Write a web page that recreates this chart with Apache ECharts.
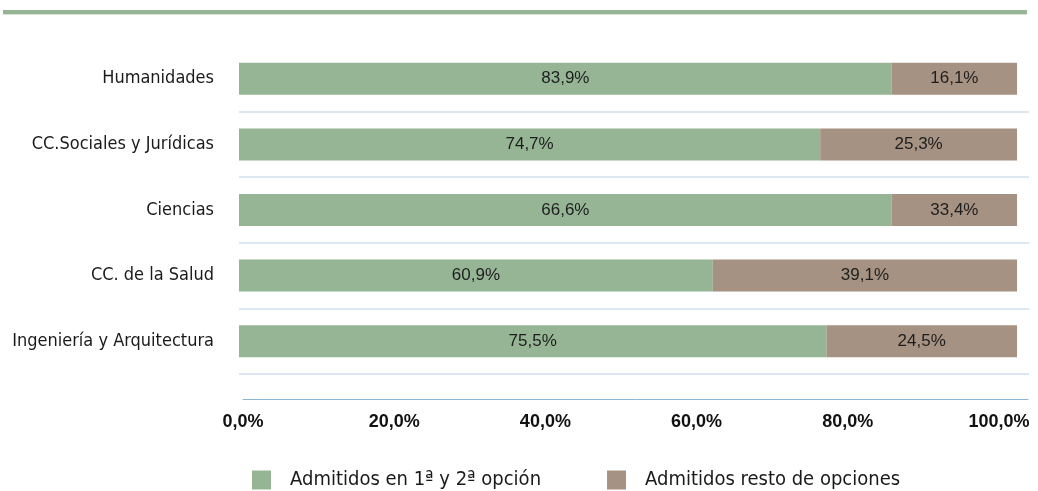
<!DOCTYPE html>
<html>
<head>
<meta charset="utf-8">
<script src="https://cdn.jsdelivr.net/npm/echarts@6/dist/echarts.min.js"></script>
<style>
  html, body { margin: 0; padding: 0; background: #fff; }
  #chart { width: 1038px; height: 491px; }
</style>
</head>
<body>
<div id="chart"></div>
<script>
// categories (top to bottom)
const categories = ['Humanidades', 'CC.Sociales y Jurídicas', 'Ciencias', 'CC. de la Salud', 'Ingeniería y Arquitectura'];
// bar lengths as drawn
const primeraSegunda = [83.9, 74.7, 83.9, 60.9, 75.5];
const restoOpciones = [16.1, 25.3, 16.1, 39.1, 24.5];
// printed labels
const labelsPrimera = ['83,9%', '74,7%', '66,6%', '60,9%', '75,5%'];
const labelsResto = ['16,1%', '25,3%', '33,4%', '39,1%', '24,5%'];
const tickLabels = ['0,0%', '20,0%', '40,0%', '60,0%', '80,0%', '100,0%'];
const seriesNames = ['Admitidos en 1ª y 2ª opción', 'Admitidos resto de opciones'];

const GREEN = '#96b595';
const BROWN = '#a59282';
const NARROW = "'Liberation Sans Narrow', 'DejaVu Sans Condensed', 'Liberation Sans', sans-serif";

const chart = echarts.init(document.getElementById('chart'));

const option = {
  backgroundColor: '#fff',
  animation: false,
  graphic: [
    { type: 'rect', left: 3, top: 10, shape: { width: 1024, height: 4 }, style: { fill: GREEN } },
    { type: 'rect', left: 3, top: 14, shape: { width: 1024, height: 1 }, style: { fill: '#d3e4d2' } }
  ],
  legend: {
    left: 247,
    top: 465,
    itemWidth: 19,
    itemHeight: 19,
    itemGap: 66,
    icon: 'rect',
    textStyle: { fontFamily: NARROW, fontSize: 20, color: '#1a1a1a', padding: [0, 0, 0, 14] },
    data: seriesNames
  },
  grid: [
    { left: 239, right: 9, top: 46, bottom: 117, outerBoundsMode: 'none' },
    { left: 243, right: 10, top: 46, bottom: 117, outerBoundsMode: 'none' }
  ],
  xAxis: [
    { gridIndex: 0, type: 'value', min: 0, max: 101.54, show: false },
    {
      gridIndex: 1, type: 'value', min: 0, max: 103.84, interval: 20, offset: 25,
      axisLine: { show: true, lineStyle: { color: '#8ab6d8', width: 1 } },
      axisTick: { show: false },
      splitLine: { show: false },
      axisLabel: {
        showMaxLabel: false,
        margin: 14,
        fontFamily: 'Liberation Sans',
        fontWeight: 'bold',
        fontSize: 18,
        color: '#111',
        formatter: v => tickLabels[Math.round(v / 20)] || ''
      }
    }
  ],
  yAxis: [
    {
      gridIndex: 0, type: 'category', inverse: true, data: categories,
      axisLine: { show: false },
      axisTick: { show: false },
      splitLine: { show: true, showMinLine: false, lineStyle: { color: '#dde7f1', width: 2 } },
      axisLabel: { margin: 25, fontFamily: NARROW, fontSize: 18, color: '#1a1a1a' }
    },
    { gridIndex: 1, type: 'category', inverse: true, data: categories, show: false }
  ],
  series: [
    {
      name: seriesNames[0], type: 'bar', stack: 'total', xAxisIndex: 0, yAxisIndex: 0,
      data: primeraSegunda, barWidth: 32, itemStyle: { color: GREEN },
      label: {
        show: true, position: 'inside', color: '#1e1e1e', fontSize: 17, fontFamily: 'Liberation Sans',
        formatter: p => labelsPrimera[p.dataIndex]
      }
    },
    {
      name: seriesNames[1], type: 'bar', stack: 'total', xAxisIndex: 0, yAxisIndex: 0,
      data: restoOpciones, barWidth: 32, itemStyle: { color: BROWN },
      label: {
        show: true, position: 'inside', color: '#1e1e1e', fontSize: 17, fontFamily: 'Liberation Sans',
        formatter: p => labelsResto[p.dataIndex]
      }
    }
  ]
};

chart.setOption(option);
</script>
</body>
</html>
